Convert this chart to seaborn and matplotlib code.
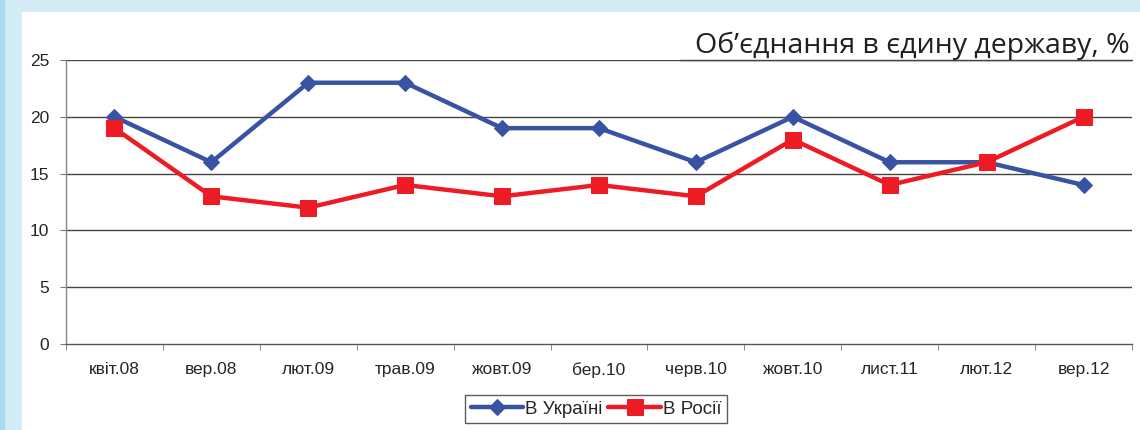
import matplotlib
matplotlib.use("Agg")
import matplotlib.pyplot as plt
import matplotlib.patches as mpatches
import seaborn as sns
import pandas as pd

periods = ["квіт.08", "вер.08", "лют.09", "трав.09", "жовт.09", "бер.10",
           "черв.10", "жовт.10", "лист.11", "лют.12", "вер.12"]
ukraine = [20, 16, 23, 23, 19, 19, 16, 20, 16, 16, 14]
russia = [19, 13, 12, 14, 13, 14, 13, 18, 14, 16, 20]
y_ticks = [0, 5, 10, 15, 20, 25]

title = "Об\u2019єднання в єдину державу, %"

blue = "#3953a4"
red = "#ed1c24"

sns.set_style("white")
plt.rcParams["font.family"] = ["Liberation Sans", "DejaVu Sans"]

fig = plt.figure(figsize=(11.4, 4.3), dpi=100)
fig.patch.set_facecolor("#d3ebf5")
# white panel and darker left strip
fig.patches.append(mpatches.Rectangle((22 / 1140, 0), 1, (430 - 12) / 430,
                                      transform=fig.transFigure, color="white", zorder=-2))
fig.patches.append(mpatches.Rectangle((0, 0), 4 / 1140, 1,
                                      transform=fig.transFigure, color="#a9dbef", zorder=-2))

ax = fig.add_axes([66 / 1140, 86 / 430, (1132 - 66) / 1140, 284 / 430])
ax.set_zorder(2)
ax.set_facecolor("none")

df = pd.DataFrame({"x": range(len(periods)), "ua": ukraine, "ru": russia})

sns.lineplot(data=df, x="x", y="ua", ax=ax, color=blue, lw=3.2, marker="D",
             markersize=8.5, markeredgecolor=blue, label="В Україні", zorder=3)
sns.lineplot(data=df, x="x", y="ru", ax=ax, color=red, lw=3.2, marker="s",
             markersize=12, markeredgecolor=red, label="В Росії", zorder=4)

ax.set_xlim(-0.5, len(periods) - 0.5)
ax.set_ylim(0, 25)
ax.set_yticks(y_ticks)
ax.set_yticklabels([str(v) for v in y_ticks], fontsize=12.5)
ax.set_xticks(range(len(periods)))
ax.set_xticklabels(periods, fontsize=12.5)
ax.set_xticks([i - 0.5 for i in range(len(periods) + 1)], minor=True)
ax.tick_params(axis="x", which="major", length=0, pad=13)
ax.tick_params(axis="x", which="minor", length=4, color="#777777", direction="out", bottom=True)
ax.tick_params(axis="y", length=4, color="#777777", direction="out", pad=8, left=True)
ax.set_xlabel("")
ax.set_ylabel("")

for v in y_ticks[1:]:
    ax.axhline(v, color="#444444", lw=1, zorder=1)

for side in ["top", "right"]:
    ax.spines[side].set_visible(False)
ax.spines["left"].set_color("#888888")
ax.spines["bottom"].set_color("#555555")
ax.spines["left"].set_linewidth(1)
ax.spines["bottom"].set_linewidth(1)

# title line extends under the title
fig.add_artist(plt.Line2D([680 / 1140, 1132 / 1140], [370 / 430, 370 / 430],
                          transform=fig.transFigure, color="#333333", lw=1))
fig.text(1130 / 1140, (430 - 53) / 430, title, ha="right", va="baseline",
         fontsize=20.5, color="#231f20", family=["Open Sans", "DejaVu Sans"])

ax.get_legend().remove()
handles, labels = ax.get_legend_handles_labels()
leg = fig.legend(handles, labels, loc="center", bbox_to_anchor=(596 / 1140, (430 - 409) / 430),
                 ncol=2, frameon=True, fancybox=False, fontsize=13.5, handlelength=2.8,
                 columnspacing=0.3, handletextpad=0.1, borderpad=0.3, borderaxespad=0)
leg.get_frame().set_edgecolor("#333333")
leg.get_frame().set_linewidth(1)

fig.savefig("out.png", dpi=100)
